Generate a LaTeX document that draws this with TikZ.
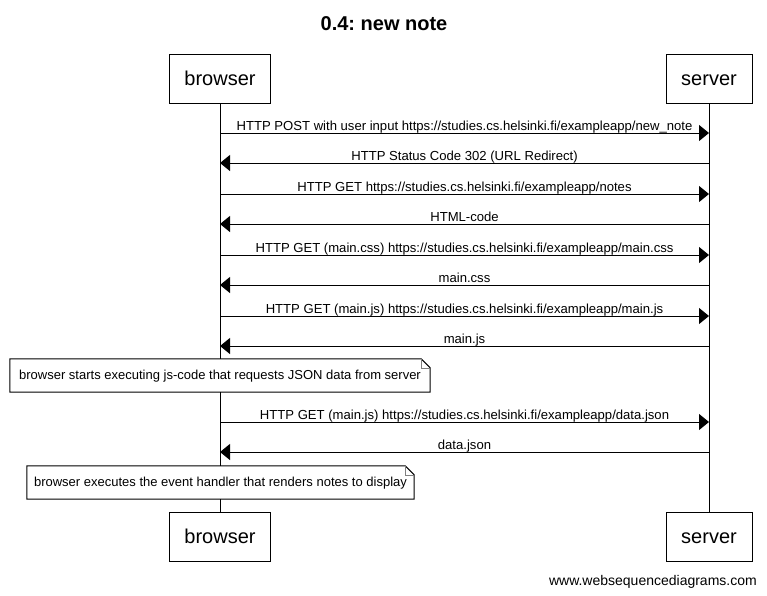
\documentclass[tikz,border=0pt]{standalone}
\usepackage{fontspec}
\setmainfont{Liberation Sans}
\usetikzlibrary{arrows.meta}
\frenchspacing
\tikzset{
  participant/.style={draw, line width=1pt, fill=white, minimum width=#1,
    minimum height=49pt, inner sep=0pt, font=\fontsize{20}{24}\selectfont,
    text height=14.5pt, text depth=0pt},
  lifeline/.style={line width=1pt},
  msg/.style={line width=1pt, -{Triangle[length=10pt,width=16pt]}},
  msglabel/.style={anchor=base, inner sep=0pt, yshift=3pt,
    font=\fontsize{13.1}{15}\selectfont},
  notebox/.style={fill=white, inner sep=0pt, minimum width=#1,
    minimum height=33pt, text height=10pt, text depth=2.5pt,
    font=\fontsize{13}{15}\selectfont},
  notefold/.style={line width=0.6pt, draw=gray},
}
% frame of a note with a folded top-right corner
\newcommand{\noteframe}[1]{%
  \draw[line width=1pt] (#1.south west) -- (#1.north west)
    -- ([xshift=-9pt]#1.north east) -- ([yshift=-9pt]#1.north east)
    -- (#1.south east) -- cycle;
  \draw[notefold] ([xshift=-9pt]#1.north east) |- ([yshift=-9pt]#1.north east);}
\begin{document}
\begin{tikzpicture}[x=1pt, y=-1pt]
  \useasboundingbox (0,0) rectangle (767,595);

  \node[anchor=base, inner sep=0pt, font=\fontsize{20}{24}\selectfont\bfseries]
    (title) at (384,30) {0.4: new note};

  % participants
  \node[participant=101pt] (bt) at (220,78.5) {browser};
  \node[participant=86pt]  (st) at (709,78.5) {server};
  \node[participant=101pt] (bb) at (220,536.5) {browser};
  \node[participant=86pt]  (sb) at (709,536.5) {server};

  \draw[lifeline] (bt) -- (bb);
  \draw[lifeline] (st) -- (sb);

  % message end points on the lifelines
  \coordinate (b1) at (220,133);  \coordinate (s1) at (709,133);
  \coordinate (b2) at (220,163);  \coordinate (s2) at (709,163);
  \coordinate (b3) at (220,194);  \coordinate (s3) at (709,194);
  \coordinate (b4) at (220,224);  \coordinate (s4) at (709,224);
  \coordinate (b5) at (220,255);  \coordinate (s5) at (709,255);
  \coordinate (b6) at (220,285);  \coordinate (s6) at (709,285);
  \coordinate (b7) at (220,316);  \coordinate (s7) at (709,316);
  \coordinate (b8) at (220,346);  \coordinate (s8) at (709,346);
  \coordinate (b9) at (220,422);  \coordinate (s9) at (709,422);
  \coordinate (b10) at (220,452); \coordinate (s10) at (709,452);

  \draw[msg] (b1) -- node[msglabel] {HTTP POST with user input https://studies.cs.helsinki.fi/exampleapp/new\_note} (s1);
  \draw[msg] (s2) -- node[msglabel] {HTTP Status Code 302 (URL Redirect)} (b2);
  \draw[msg] (b3) -- node[msglabel] {HTTP GET https://studies.cs.helsinki.fi/exampleapp/notes} (s3);
  \draw[msg] (s4) -- node[msglabel] {HTML-code} (b4);
  \draw[msg] (b5) -- node[msglabel] {HTTP GET (main.css) https://studies.cs.helsinki.fi/exampleapp/main.css} (s5);
  \draw[msg] (s6) -- node[msglabel] {main.css} (b6);
  \draw[msg] (b7) -- node[msglabel] {HTTP GET (main.js) https://studies.cs.helsinki.fi/exampleapp/main.js} (s7);
  \draw[msg] (s8) -- node[msglabel] {main.js} (b8);

  \node[notebox=420pt] (n1) at (220,375.5)
    {browser starts executing js-code that requests JSON data from server};
  \noteframe{n1}

  \draw[msg] (b9) -- node[msglabel] {HTTP GET (main.js) https://studies.cs.helsinki.fi/exampleapp/data.json} (s9);
  \draw[msg] (s10) -- node[msglabel] {data.json} (b10);

  \node[notebox=387pt] (n2) at (220.5,482.5)
    {browser executes the event handler that renders notes to display};
  \noteframe{n2}

  \node[anchor=base east, inner sep=0pt, font=\fontsize{14}{16}\selectfont]
    (wsd) at (757,585) {www.websequencediagrams.com};
\end{tikzpicture}
\end{document}
